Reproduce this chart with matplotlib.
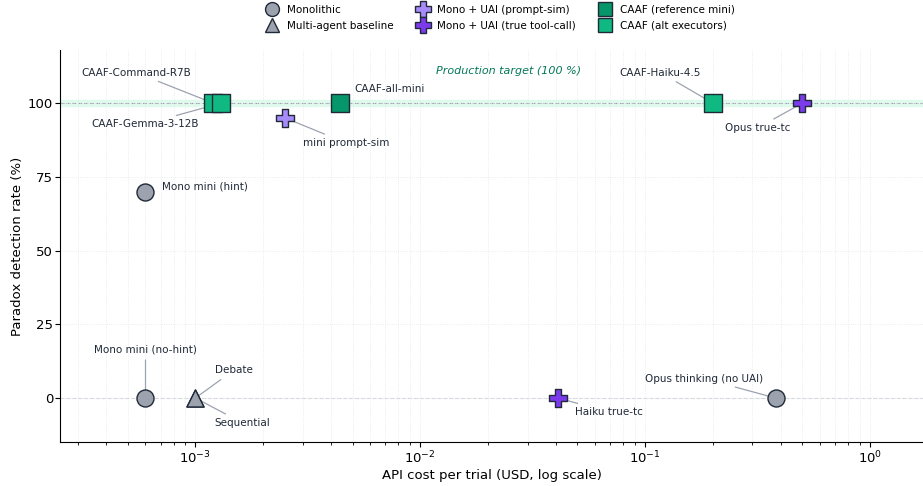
import matplotlib

matplotlib.use("Agg", force=True)
import matplotlib.pyplot as plt
from matplotlib.lines import Line2D

# cost per trial (USD) and paradox detection rate (%)
mono_names = ["Mono mini (hint)", "Mono mini (no-hint)", "Opus thinking (no UAI)"]
mono_cost = [6.0e-4, 6.0e-4, 0.38]
mono_rate = [70, 0, 0]

multi_names = ["Debate", "Sequential"]
multi_cost = [1.0e-3, 1.0e-3]
multi_rate = [0, 0]

psim_names = ["mini prompt-sim"]
psim_cost = [2.5e-3]
psim_rate = [95]

truetc_names = ["Haiku true-tc", "Opus true-tc"]
truetc_cost = [0.041, 0.50]
truetc_rate = [0, 100]

caaf_ref_names = ["CAAF-all-mini"]
caaf_ref_cost = [4.4e-3]
caaf_ref_rate = [100]

caaf_alt_names = ["CAAF-Command-R7B", "CAAF-Gemma-3-12B", "CAAF-Haiku-4.5"]
caaf_alt_cost = [1.2e-3, 1.3e-3, 0.20]
caaf_alt_rate = [100, 100, 100]

GRAY = "#9ca3af"
PSIM = "#a78bfa"
TRUETC = "#7c3aed"
CAAF_REF = "#059669"
CAAF_ALT = "#10b981"
EDGE = "#1f2937"

fig, ax = plt.subplots(figsize=(9.23, 4.86), dpi=100)
fig.subplots_adjust(left=0.065, right=1.0, top=0.897, bottom=0.09)

ax.set_xscale("log")
ax.set_xlim(2.5e-4, 1.72)
ax.set_ylim(-15, 118)

ax.axhspan(99, 101, color="#d1fae5", alpha=0.6, zorder=0)
ax.axhline(100, color="#9ca3af", lw=0.8, ls="--", zorder=1)
ax.axhline(0, color="#d1d5db", lw=0.8, ls="--", zorder=1)
ax.text(0.0247, 110.9, "Production target (100 %)", color="#047857",
        fontsize=8, style="italic", ha="center", va="center")

ax.grid(True, which="both", axis="x", ls=":", lw=0.6, color="#e5e7eb")
ax.grid(True, which="major", axis="y", ls=":", lw=0.6, color="#e5e7eb")
ax.set_yticks([0, 25, 50, 75, 100])
ax.tick_params(axis="both", which="major", labelsize=9.5, length=3.5, pad=1.5)
ax.tick_params(axis="both", which="minor", length=2)
for s in ("top", "right"):
    ax.spines[s].set_visible(False)

kw = dict(s=150, edgecolors=EDGE, linewidths=1.0, zorder=4)
ax.scatter(mono_cost, mono_rate, marker="o", c=GRAY, **kw)
ax.scatter(multi_cost, multi_rate, marker="^", c=GRAY, **kw)
ax.scatter(psim_cost, psim_rate, marker="P", c=PSIM, **kw)
ax.scatter(truetc_cost, truetc_rate, marker="P", c=TRUETC, **kw)
ax.scatter(caaf_ref_cost, caaf_ref_rate, marker="s", c=CAAF_REF, **kw)
ax.scatter(caaf_alt_cost, caaf_alt_rate, marker="s", c=CAAF_ALT, **kw)

# label offsets in points: (dx, dy, draw connector, horizontal alignment)
offsets = {
    "Mono mini (hint)": (12, 4, False, "left"),
    "Mono mini (no-hint)": (0, 35, True, "center"),
    "Opus thinking (no UAI)": (-94, 14, True, "left"),
    "Debate": (14, 20, True, "left"),
    "Sequential": (14, -18, True, "left"),
    "mini prompt-sim": (13, -18, True, "left"),
    "Haiku true-tc": (12, -10, True, "left"),
    "Opus true-tc": (-56, -18, True, "left"),
    "CAAF-all-mini": (10, 10, False, "left"),
    "CAAF-Command-R7B": (-95, 22, True, "left"),
    "CAAF-Gemma-3-12B": (-93, -15, True, "left"),
    "CAAF-Haiku-4.5": (-67, 22, True, "left"),
}

groups = [
    (mono_names, mono_cost, mono_rate),
    (multi_names, multi_cost, multi_rate),
    (psim_names, psim_cost, psim_rate),
    (truetc_names, truetc_cost, truetc_rate),
    (caaf_ref_names, caaf_ref_cost, caaf_ref_rate),
    (caaf_alt_names, caaf_alt_cost, caaf_alt_rate),
]
for names, xs, ys in groups:
    for name, x, y in zip(names, xs, ys):
        dx, dy, line, ha = offsets[name]
        arrow = dict(arrowstyle="-", color="#9ca3af", lw=0.9) if line else None
        ax.annotate(name, (x, y), xytext=(dx, dy), textcoords="offset points",
                    fontsize=7.5, color="#1f2937", va="center", ha=ha,
                    arrowprops=arrow, zorder=3)

ax.set_xlabel("API cost per trial (USD, log scale)", fontsize=9.5, labelpad=2)
ax.set_ylabel("Paradox detection rate (%)", fontsize=9.5, labelpad=3)

handles = [
    Line2D([], [], ls="", marker="o", ms=10, mfc=GRAY, mec=EDGE, label="Monolithic"),
    Line2D([], [], ls="", marker="^", ms=10, mfc=GRAY, mec=EDGE, label="Multi-agent baseline"),
    Line2D([], [], ls="", marker="P", ms=11, mfc=PSIM, mec=EDGE, label="Mono + UAI (prompt-sim)"),
    Line2D([], [], ls="", marker="P", ms=11, mfc=TRUETC, mec=EDGE, label="Mono + UAI (true tool-call)"),
    Line2D([], [], ls="", marker="s", ms=10, mfc=CAAF_REF, mec=EDGE, label="CAAF (reference mini)"),
    Line2D([], [], ls="", marker="s", ms=10, mfc=CAAF_ALT, mec=EDGE, label="CAAF (alt executors)"),
]
fig.legend(handles=handles, loc="upper center", bbox_to_anchor=(0.54, 1.01), ncol=3,
           frameon=False, fontsize=7.5, handletextpad=0.4, columnspacing=1.8,
           labelspacing=0.6)

fig.savefig("out.png", dpi=100)
